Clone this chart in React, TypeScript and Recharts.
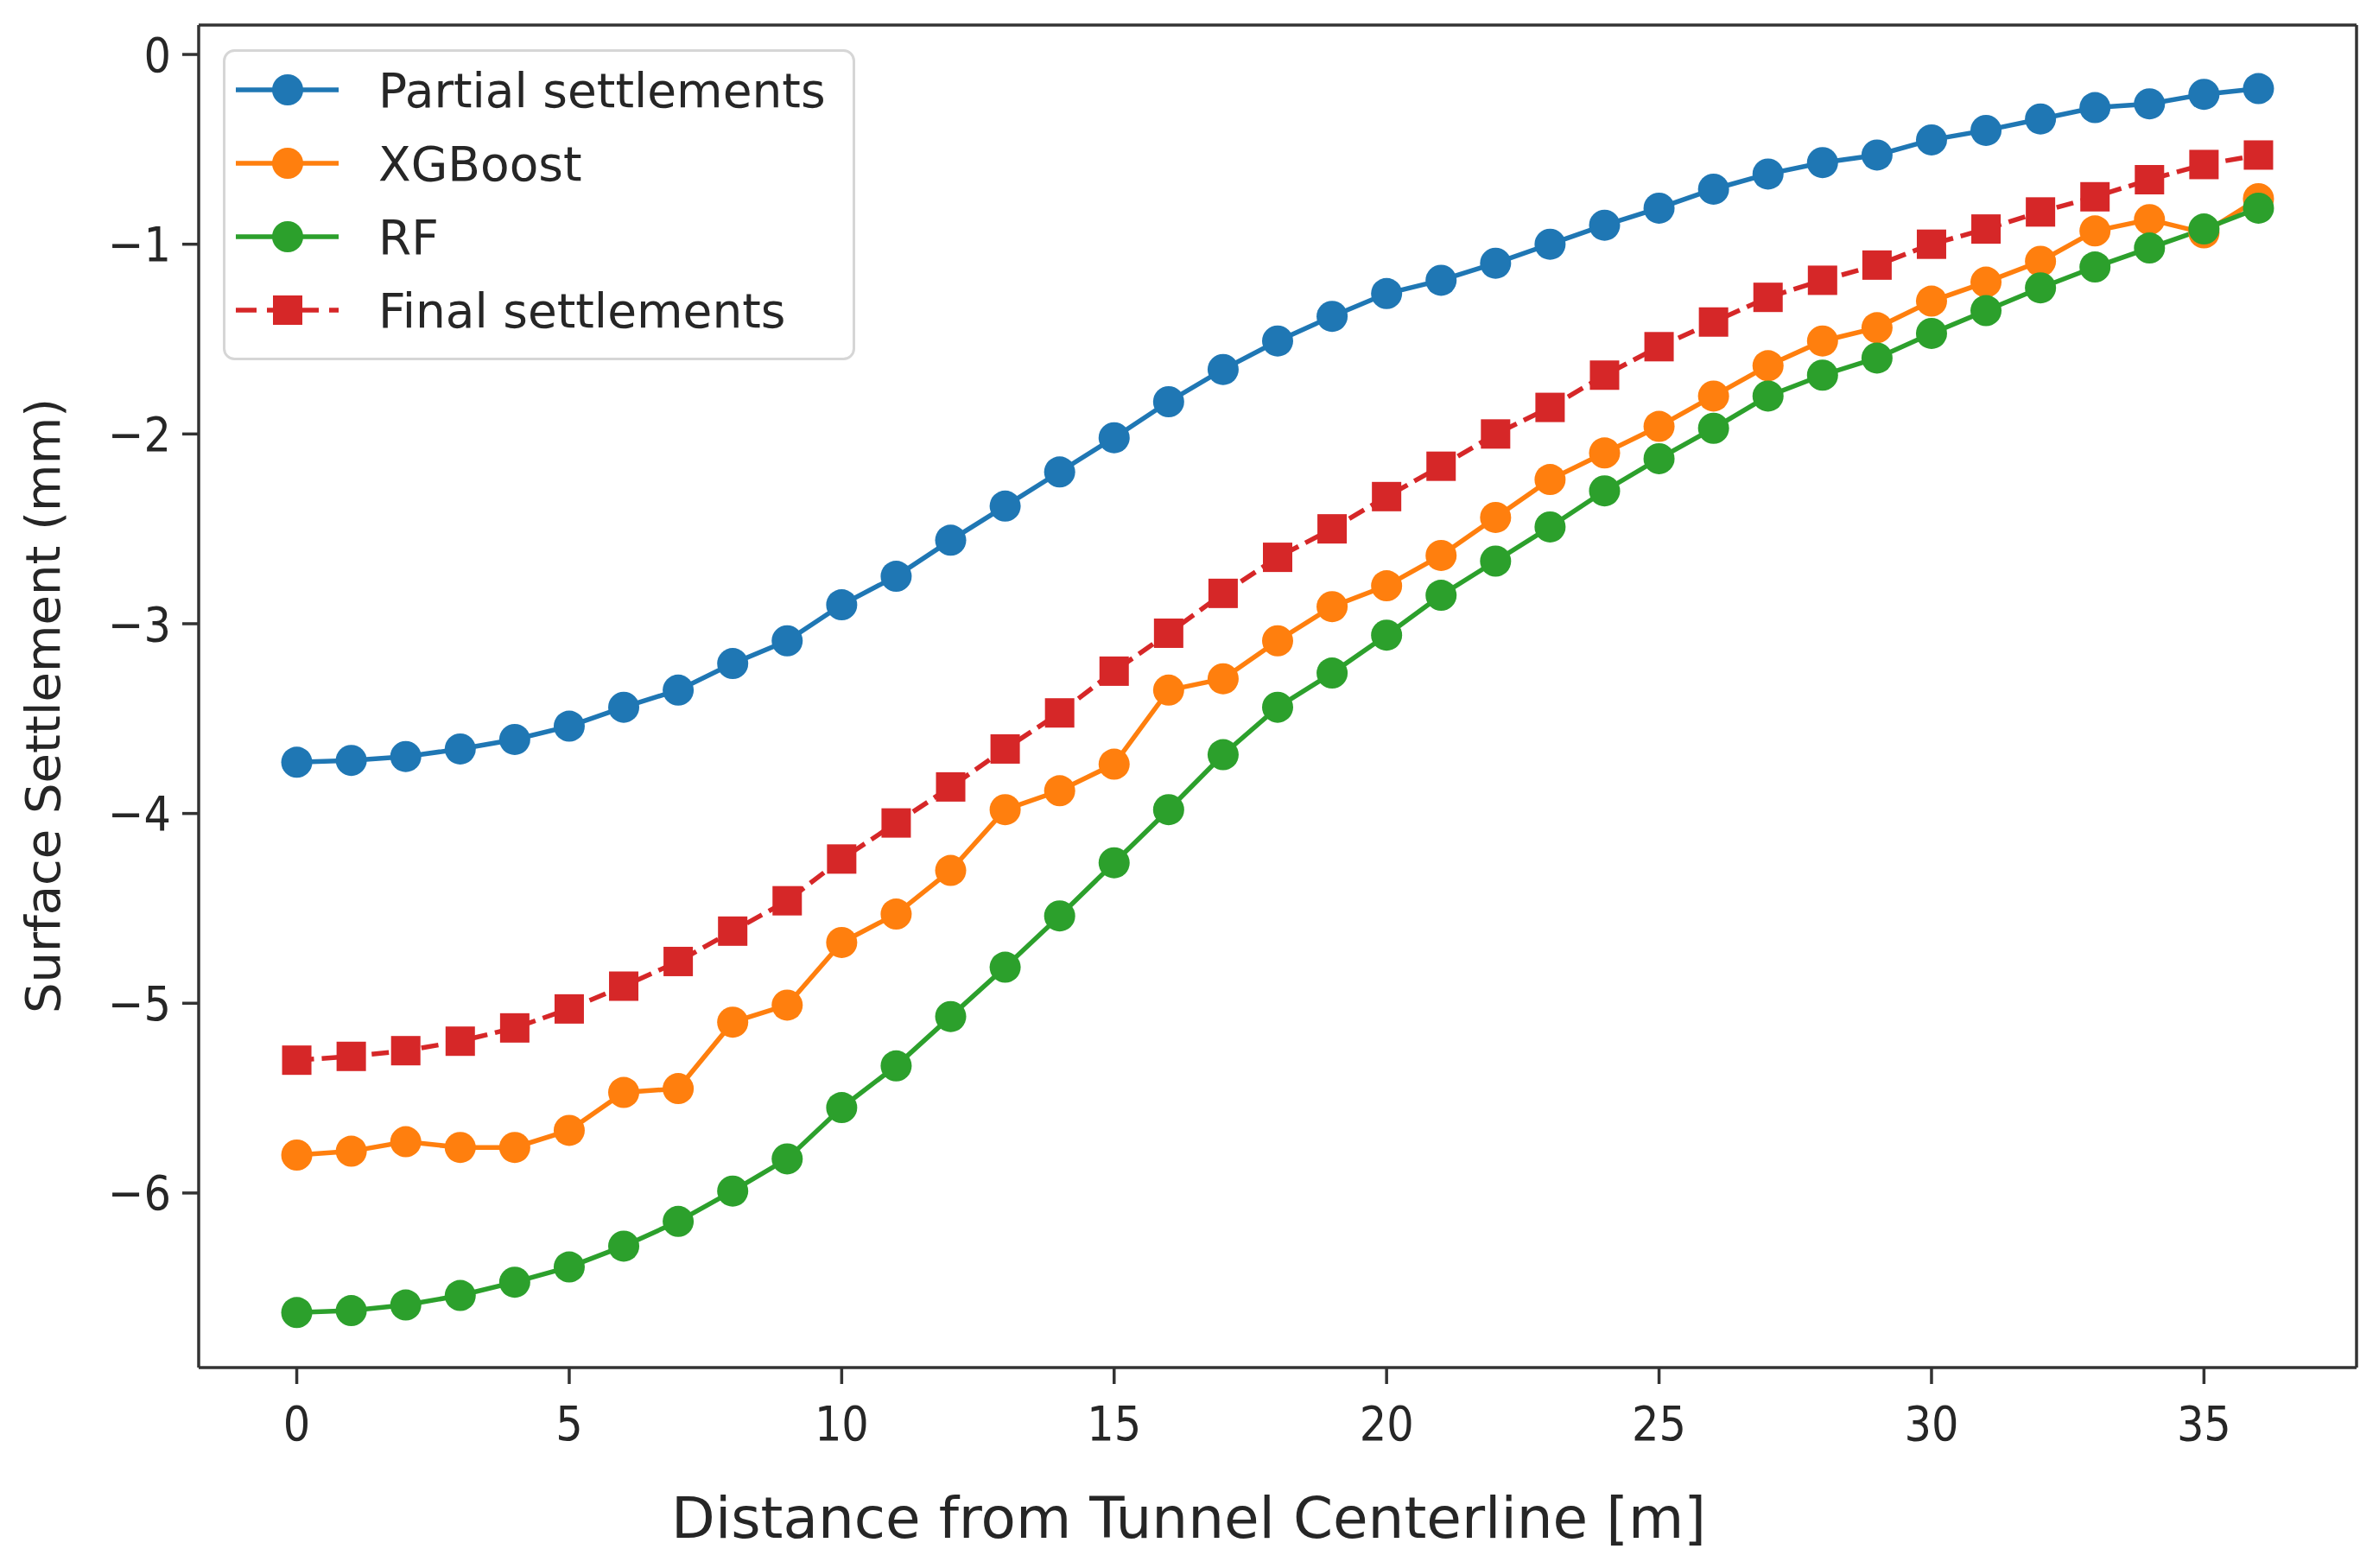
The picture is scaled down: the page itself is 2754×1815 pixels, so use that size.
import React from "react";
import { LineChart, Line, XAxis, YAxis, ReferenceLine } from "recharts";

// Surface settlement profiles vs. distance from tunnel centerline.
const distance = [
  0, 1, 2, 3, 4, 5, 6, 7, 8, 9, 10, 11, 12, 13, 14, 15, 16, 17, 18,
  19, 20, 21, 22, 23, 24, 25, 26, 27, 28, 29, 30, 31, 32, 33, 34, 35, 36,
];

const partial = [
  -3.73, -3.72, -3.7, -3.66, -3.61, -3.54, -3.44, -3.35, -3.21, -3.09,
  -2.9, -2.75, -2.56, -2.38, -2.2, -2.02, -1.83, -1.66, -1.51, -1.38,
  -1.26, -1.19, -1.1, -1.0, -0.9, -0.81, -0.71, -0.63, -0.57, -0.53,
  -0.45, -0.4, -0.34, -0.28, -0.26, -0.21, -0.18,
];

const xgboost = [
  -5.8, -5.78, -5.73, -5.76, -5.76, -5.67, -5.47, -5.45, -5.1, -5.01,
  -4.68, -4.53, -4.3, -3.98, -3.88, -3.74, -3.35, -3.29, -3.09, -2.91,
  -2.8, -2.64, -2.44, -2.24, -2.1, -1.96, -1.8, -1.64, -1.51, -1.44,
  -1.3, -1.2, -1.09, -0.93, -0.87, -0.94, -0.76,
];

const rf = [
  -6.63, -6.62, -6.59, -6.54, -6.47, -6.39, -6.28, -6.15, -5.99, -5.82,
  -5.55, -5.33, -5.07, -4.81, -4.54, -4.26, -3.98, -3.69, -3.44, -3.26,
  -3.06, -2.85, -2.67, -2.49, -2.3, -2.13, -1.97, -1.8, -1.69, -1.6,
  -1.47, -1.35, -1.23, -1.12, -1.02, -0.92, -0.81,
];

const finalSettlement = [
  -5.3, -5.28, -5.25, -5.2, -5.13, -5.03, -4.91, -4.78, -4.62, -4.46,
  -4.24, -4.05, -3.86, -3.66, -3.47, -3.25, -3.05, -2.84, -2.65, -2.5,
  -2.33, -2.17, -2.0, -1.86, -1.69, -1.54, -1.41, -1.28, -1.19, -1.11,
  -1.0, -0.92, -0.83, -0.75, -0.66, -0.58, -0.53,
];

const xTicks = [0, 5, 10, 15, 20, 25, 30, 35];
const yTicks = [0, -1, -2, -3, -4, -5, -6];
const xDomain = [-1.8, 37.8];
const yDomain = [-6.92, 0.155];

const seriesInfo = [
  { key: "partial", name: "Partial settlements", color: "#1f77b4", square: false },
  { key: "xgboost", name: "XGBoost", color: "#ff7f0e", square: false },
  { key: "rf", name: "RF", color: "#2ca02c", square: false },
  { key: "final", name: "Final settlements", color: "#d62728", square: true },
];

const data = distance.map((x, i) => ({
  x,
  partial: partial[i],
  xgboost: xgboost[i],
  rf: rf[i],
  final: finalSettlement[i],
}));

const FONT = "'DejaVu Sans', sans-serif";
const TICK_FONT = "'DejaVu Sans Condensed', 'DejaVu Sans', sans-serif";
const AXIS = "#333";
const TEXT = "#262626";
const LW = 5.5;
const R = 18;
const SQ = 34;
const DASH = "20 9";

const fmt = (v: number) => (v < 0 ? `\u2212${-v}` : `${v}`);

const SquareDot = (props: any) => {
  const { cx, cy, index } = props;
  if (cx == null || cy == null) return <g key={`sq-${index}`} />;
  return (
    <rect
      key={`sq-${index}`}
      x={cx - SQ / 2}
      y={cy - SQ / 2}
      width={SQ}
      height={SQ}
      fill="#d62728"
    />
  );
};

function LegendBox() {
  const rowY = [47, 132, 217, 302];
  return (
    <svg
      width={732}
      height={360}
      style={{ position: "absolute", left: 258, top: 57 }}
    >
      <rect
        x={1.5}
        y={1.5}
        width={729}
        height={357}
        rx={12}
        fill="#ffffff"
        fillOpacity={0.8}
        stroke="#d6d6d6"
        strokeWidth={3}
      />
      {seriesInfo.map((s, i) => (
        <g key={s.key}>
          <line
            x1={15}
            x2={134}
            y1={rowY[i]}
            y2={rowY[i]}
            stroke={s.color}
            strokeWidth={LW}
            strokeDasharray={s.square ? "24 12" : undefined}
          />
          {s.square ? (
            <rect x={75 - SQ / 2} y={rowY[i] - SQ / 2} width={SQ} height={SQ} fill={s.color} />
          ) : (
            <circle cx={75} cy={rowY[i]} r={R} fill={s.color} />
          )}
          <text
            x={180}
            y={rowY[i]}
            dy="0.36em"
            fontFamily={FONT}
            fontSize={55}
            fill={TEXT}
          >
            {s.name}
          </text>
        </g>
      ))}
    </svg>
  );
}

export default function App() {
  return (
    <div
      style={{
        position: "absolute",
        left: 0,
        top: 0,
        width: 2754,
        height: 1815,
        background: "#fff",
      }}
    >
      <LineChart
        width={2754}
        height={1815}
        data={data}
        margin={{ top: 29, right: 26, bottom: 0, left: 0 }}
      >
        <XAxis
          dataKey="x"
          type="number"
          domain={xDomain}
          ticks={xTicks}
          allowDataOverflow
          height={232}
          tickSize={19}
          tickMargin={26}
          axisLine={{ stroke: AXIS, strokeWidth: 3.5 }}
          tickLine={{ stroke: AXIS, strokeWidth: 3.5 }}
          tick={{ fontSize: 55, fill: TEXT, fontFamily: TICK_FONT }}
          label={{
            value: "Distance from Tunnel Centerline [m]",
            position: "insideBottom",
            offset: 35,
            dx: -103,
            style: { fontSize: 66, fill: TEXT, fontFamily: FONT },
          }}
        />
        <YAxis
          type="number"
          domain={yDomain}
          ticks={yTicks}
          allowDataOverflow
          width={230}
          tickSize={19}
          tickMargin={13}
          tickFormatter={fmt}
          axisLine={{ stroke: AXIS, strokeWidth: 3.5 }}
          tickLine={{ stroke: AXIS, strokeWidth: 3.5 }}
          tick={{ fontSize: 55, fill: TEXT, fontFamily: TICK_FONT }}
          label={{
            value: "Surface Settlement (mm)",
            angle: -90,
            position: "insideLeft",
            offset: 49,
            dy: 11,
            style: { fontSize: 56, fill: TEXT, fontFamily: FONT, textAnchor: "middle" },
          }}
        />
        {/* top and right spines of the matplotlib-style frame */}
        <ReferenceLine y={yDomain[1]} stroke={AXIS} strokeWidth={3.5} ifOverflow="visible" />
        <ReferenceLine x={xDomain[1]} stroke={AXIS} strokeWidth={3.5} ifOverflow="visible" />
        {seriesInfo.map((s) => (
          <Line
            key={s.key}
            dataKey={s.key}
            name={s.name}
            type="linear"
            stroke={s.color}
            strokeWidth={LW}
            strokeDasharray={s.square ? DASH : undefined}
            dot={s.square ? SquareDot : { r: R, fill: s.color, stroke: "none" }}
            activeDot={false}
            isAnimationActive={false}
          />
        ))}
      </LineChart>
      <LegendBox />
    </div>
  );
}
